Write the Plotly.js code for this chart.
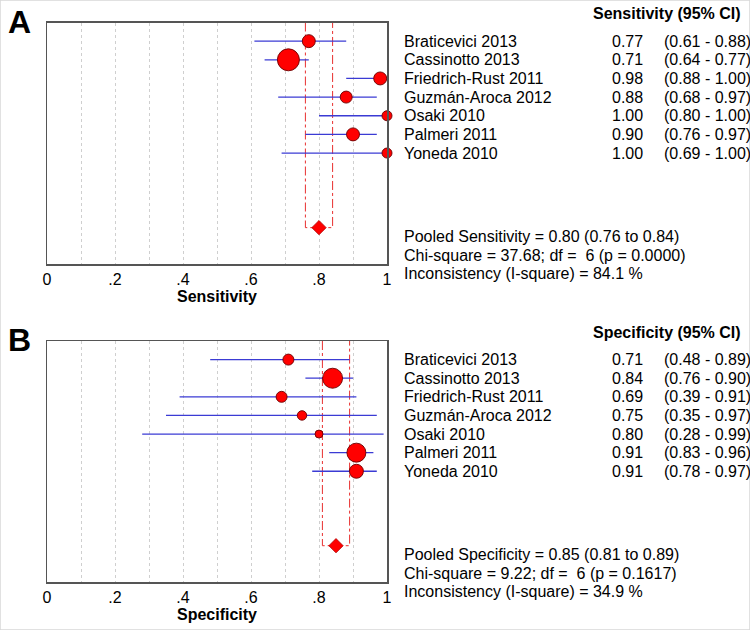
<!DOCTYPE html>
<html>
<head>
<meta charset="utf-8">
<script src="https://cdn.plot.ly/plotly-3.0.1.min.js"></script>
<style>html,body{margin:0;padding:0;background:#fff;}</style>
</head>
<body>
<div id="chart" style="width:750px;height:630px;"></div>
<script>
// ---------------- DATA ----------------
const studies = ['Braticevici 2013','Cassinotto 2013','Friedrich-Rust 2011','Guzmán-Aroca 2012','Osaki 2010','Palmeri 2011','Yoneda 2010'];
const sens   = [0.77, 0.71, 0.98, 0.88, 1.00, 0.90, 1.00];
const sensLo = [0.61, 0.64, 0.88, 0.68, 0.80, 0.76, 0.69];
const sensHi = [0.88, 0.77, 1.00, 0.97, 1.00, 0.97, 1.00];
const spec   = [0.71, 0.84, 0.69, 0.75, 0.80, 0.91, 0.91];
const specLo = [0.48, 0.76, 0.39, 0.35, 0.28, 0.83, 0.78];
const specHi = [0.89, 0.90, 0.91, 0.97, 0.99, 0.96, 0.97];
const pooledSens = [0.80, 0.76, 0.84];   // estimate, lower, upper
const pooledSpec = [0.85, 0.81, 0.89];
const statsSens = ['37.68', '6', '0.0000', '84.1'];  // chi-square, df, p, I-square
const statsSpec = ['9.22', '6', '0.1617', '34.9'];
const tickVals   = [0, 0.1, 0.2, 0.3, 0.4, 0.5, 0.6, 0.7, 0.8, 0.9, 1];
const tickLabels = ['0', '', '.2', '', '.4', '', '.6', '', '.8', '', '1'];

// ---------------- STYLE ----------------
const markerSizeA = [13, 22, 13, 12, 10, 13, 10];
const markerSizeB = [11, 20, 11, 9.5, 8, 19, 14];
const FONT = 'Liberation Sans, Arial, sans-serif';
const W = 750, H = 630;
const xDom = [47 / W, 387 / W];
const domA = [1 - 264 / H, 1 - 22.5 / H];
const domB = [1 - 582 / H, 1 - 341 / H];
const yMax = 12.95;
const pooledRow = 11;
const rows = studies.map((s, i) => i + 1);

function rowToPaper(row, dom) { return dom[1] - row / yMax * (dom[1] - dom[0]); }
function px(x) { return x / W; }

function panelTraces(est, lo, hi, pooled, sizes, xa, ya) {
  return [
    {
      x: [pooled[1], pooled[1], pooled[2], pooled[2]],
      y: [0, pooledRow, pooledRow, 0],
      xaxis: xa, yaxis: ya, type: 'scatter', mode: 'lines',
      line: {color: '#e8302f', width: 1, dash: 'dashdot'},
      hoverinfo: 'skip', showlegend: false
    },
    {
      x: est, y: rows, xaxis: xa, yaxis: ya, type: 'scatter', mode: 'markers',
      cliponaxis: false,
      error_x: {type: 'data', symmetric: false,
        array: est.map((v, i) => hi[i] - v),
        arrayminus: est.map((v, i) => v - lo[i]),
        color: '#3b3bd4', thickness: 1.3, width: 0},
      marker: {color: '#ff0000', opacity: 1, size: sizes, line: {color: '#6a0000', width: 0.9}},
      showlegend: false
    },
    {
      x: [pooled[0]], y: [pooledRow], xaxis: xa, yaxis: ya, type: 'scatter', mode: 'markers',
      marker: {symbol: 'diamond', color: '#ff0000', opacity: 1, size: 11, line: {color: '#b00000', width: 0.8}},
      showlegend: false
    }
  ];
}

const data = [].concat(
  panelTraces(sens, sensLo, sensHi, pooledSens, markerSizeA, 'x', 'y'),
  panelTraces(spec, specLo, specHi, pooledSpec, markerSizeB, 'x2', 'y2')
);

function xAxis(anchor, title) {
  return {
    domain: xDom, anchor: anchor, range: [0, 1], fixedrange: true,
    tickmode: 'array', tickvals: tickVals, ticktext: tickLabels, ticks: '',
    tickfont: {family: FONT, size: 16, color: '#000'},
    showgrid: true, gridcolor: '#cfcfcf', griddash: 'dot', gridwidth: 1,
    showline: true, linecolor: '#555', linewidth: 1.5, mirror: true, zeroline: false,
    title: {text: title, font: {family: FONT, size: 16, color: '#000', weight: 'bold'}, standoff: 3}
  };
}
function yAxis(anchor, dom) {
  return {
    domain: dom, anchor: anchor, range: [yMax, 0], fixedrange: true,
    showticklabels: false, ticks: '', showgrid: false, zeroline: false,
    showline: true, linecolor: '#555', linewidth: 1.5, mirror: true
  };
}

const annotations = [];
function addText(text, x, yp, xanchor, bold, size) {
  annotations.push({
    text: bold ? '<b>' + text + '</b>' : text,
    x: x, y: yp, xref: 'paper', yref: 'paper', xanchor: xanchor, yanchor: 'middle',
    showarrow: false, font: {family: FONT, size: size || 16, color: '#000'}
  });
}
function panelText(dom, est, lo, hi, label, pooled, stats, letter) {
  addText(letter, px(6), rowToPaper(-0.05, dom), 'left', true, 32);
  addText(label + ' (95% CI)', px(743), rowToPaper(-0.47, dom), 'right', true, 16);
  studies.forEach((s, i) => {
    const yp = rowToPaper(rows[i], dom);
    addText(s, px(402), yp, 'left');
    addText(est[i].toFixed(2), px(645), yp, 'right');
    addText('(' + lo[i].toFixed(2) + ' - ' + hi[i].toFixed(2) + ')', px(662), yp, 'left');
  });
  addText('Pooled ' + label + ' = ' + pooled[0].toFixed(2) + ' (' + pooled[1].toFixed(2) + ' to ' + pooled[2].toFixed(2) + ')', px(402), rowToPaper(11.47, dom), 'left');
  addText('Chi-square = ' + stats[0] + '; df =\u00a0 ' + stats[1] + ' (p = ' + stats[2] + ')', px(402), rowToPaper(12.48, dom), 'left');
  addText('Inconsistency (I-square) = ' + stats[3] + ' %', px(402), rowToPaper(13.48, dom), 'left');
}
panelText(domA, sens, sensLo, sensHi, 'Sensitivity', pooledSens, statsSens, 'A');
panelText(domB, spec, specLo, specHi, 'Specificity', pooledSpec, statsSpec, 'B');

const layout = {
  width: W, height: H,
  margin: {l: 0, r: 0, t: 0, b: 0},
  paper_bgcolor: '#fff', plot_bgcolor: '#fff',
  font: {family: FONT, size: 16, color: '#000'},
  showlegend: false,
  xaxis: xAxis('y', 'Sensitivity'),
  yaxis: yAxis('x', domA),
  xaxis2: xAxis('y2', 'Specificity'),
  yaxis2: yAxis('x2', domB),
  annotations: annotations,
  shapes: [{type: 'rect', xref: 'paper', yref: 'paper', x0: 0, x1: 1, y0: 0, y1: 1,
            line: {color: '#d8d8d8', width: 1.5}, fillcolor: 'rgba(0,0,0,0)'}]
};

Plotly.newPlot('chart', data, layout, {displayModeBar: false, staticPlot: true});
</script>
</body>
</html>
